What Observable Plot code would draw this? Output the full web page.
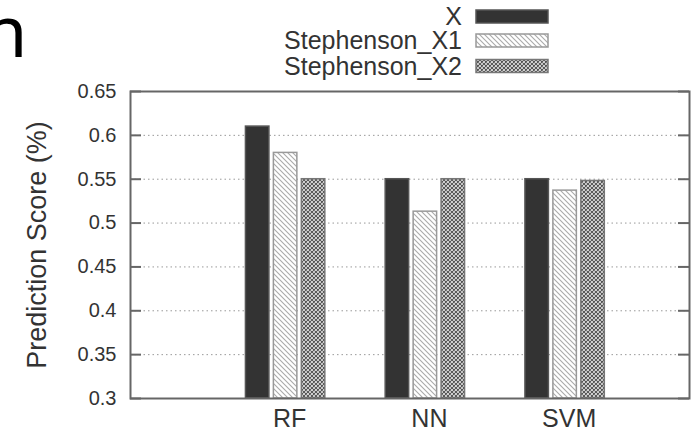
<!DOCTYPE html>
<html>
<head>
<meta charset="utf-8">
<script src="https://cdn.jsdelivr.net/npm/d3@7"></script>
<script src="https://cdn.jsdelivr.net/npm/@observablehq/plot@0.6"></script>
<style>
  html, body { margin: 0; padding: 0; background: #fff; }
  #wrap { position: relative; width: 692px; height: 434px; overflow: hidden; font-family: "Liberation Sans", Arial, sans-serif; }
  #overlay { position: absolute; left: 0; top: 0; pointer-events: none; }
</style>
</head>
<body>
<div id="wrap">
  <div id="chart"></div>
  <svg id="overlay" width="692" height="434"></svg>
</div>
<script>
// ---- data ----
const categories = ["RF", "NN", "SVM"];
const seriesNames = ["X", "Stephenson_X1", "Stephenson_X2"];
const scoreX  = [0.61, 0.55, 0.55];
const scoreX1 = [0.58, 0.513, 0.537];
const scoreX2 = [0.55, 0.55, 0.548];
const yTicks = [0.3, 0.35, 0.4, 0.45, 0.5, 0.55, 0.6, 0.65];
const yLabel = "Prediction Score (%)";
const fragmentText = "n";

// ---- build table ----
const seriesValues = [scoreX, scoreX1, scoreX2];
const fills = ["#333333", "url(#hatchX1)", "url(#hatchX2)"];
const strokes = ["#555", "#999", "#777"];
const barW = 0.168, step = 0.2;
const rows = [];
seriesNames.forEach((s, si) => {
  categories.forEach((c, ci) => {
    const center = ci + (si - 1) * step;
    rows.push({series: s, si, cat: c, x1: center - barW / 2, x2: center + barW / 2, value: seriesValues[si][ci]});
  });
});
const yMin = yTicks[0], yMax = yTicks[yTicks.length - 1];
const gridTicks = yTicks.slice(1, -1);
const fmt = d => String(+d.toFixed(2));
const W = 692, H = 434, mL = 130, mR = 3, mT = 91, mB = 36;
const frameW = W - mL - mR;

const plot = Plot.plot({
  width: W, height: H,
  marginLeft: mL, marginRight: mR, marginTop: mT, marginBottom: mB,
  style: {fontFamily: '"Liberation Sans", Arial, sans-serif', color: "#333", background: "#fff", overflow: "visible"},
  x: {type: "linear", domain: [-1.11, 2.89]},
  y: {domain: [yMin, yMax]},
  marks: [
    Plot.gridY(gridTicks, {stroke: "#999", strokeOpacity: 1, strokeDasharray: "1.5,3", strokeWidth: 1}),
    Plot.tickY(yTicks, {y: d => d, insetRight: frameW - 11, stroke: "#666", strokeWidth: 2}),
    Plot.tickY(yTicks, {y: d => d, insetLeft: frameW - 11, stroke: "#666", strokeWidth: 2}),
    ...seriesNames.map((s, si) => Plot.rectY(rows.filter(r => r.si === si), {
      x1: "x1", x2: "x2", y1: () => yMin, y2: "value",
      fill: fills[si], stroke: strokes[si], strokeWidth: 1.5
    })),
    Plot.axisY(yTicks, {anchor: "left", tickSize: 0, tickPadding: 14, tickFormat: fmt, fontSize: 20, label: null}),
    Plot.axisX(categories.map((c, i) => i), {anchor: "bottom", tickSize: 0, tickPadding: 11, tickFormat: i => categories[i], fontSize: 25, dx: 4, label: null}),
    Plot.frame({stroke: "#666", strokeWidth: 2})
  ]
});

// patterns
const defs = d3.select(plot).insert("defs", ":first-child");
function addPatterns(sel) {
  const p1 = sel.append("pattern").attr("id", "hatchX1").attr("patternUnits", "userSpaceOnUse").attr("width", 5).attr("height", 5);
  p1.append("rect").attr("width", 5).attr("height", 5).attr("fill", "#fff");
  p1.append("path").attr("d", "M0,0L5,5M-1,4L1,6M4,-1L6,1").attr("stroke", "#aaa").attr("stroke-width", 1.1);
  const p2 = sel.append("pattern").attr("id", "hatchX2").attr("patternUnits", "userSpaceOnUse").attr("width", 4).attr("height", 4);
  p2.append("rect").attr("width", 4).attr("height", 4).attr("fill", "#fff");
  p2.append("path").attr("d", "M0,0L4,4M4,0L0,4M-1,1L1,-1M3,5L5,3M-1,3L1,5M3,-1L5,1").attr("stroke", "#555").attr("stroke-width", 1.2);
}
addPatterns(defs);
document.getElementById("chart").appendChild(plot);

// overlay: legend, y label, cropped fragment
const ov = d3.select("#overlay");
const rowY = [16.5, 40.5, 66];
seriesNames.forEach((s, i) => {
  ov.append("text").attr("x", 462).attr("y", rowY[i]).attr("dy", "0.35em")
    .attr("text-anchor", "end").attr("font-size", 25).attr("fill", "#333")
    .attr("font-family", '"Liberation Sans", Arial, sans-serif').text(s);
  ov.append("rect").attr("x", 476).attr("y", rowY[i] - 6.5).attr("width", 72).attr("height", 13)
    .attr("fill", fills[i]).attr("stroke", strokes[i]).attr("stroke-width", 1.5);
});
ov.append("text")
  .attr("transform", "translate(37,245) rotate(-90)")
  .attr("text-anchor", "middle").attr("dy", "0.35em")
  .attr("font-size", 27).attr("fill", "#333")
  .attr("font-family", '"Liberation Sans", Arial, sans-serif').text(yLabel);
ov.append("text").attr("x", -17).attr("y", 57)
  .attr("font-size", 72).attr("fill", "#000")
  .attr("font-family", '"Noto Sans", sans-serif').text(fragmentText);
</script>
</body>
</html>
